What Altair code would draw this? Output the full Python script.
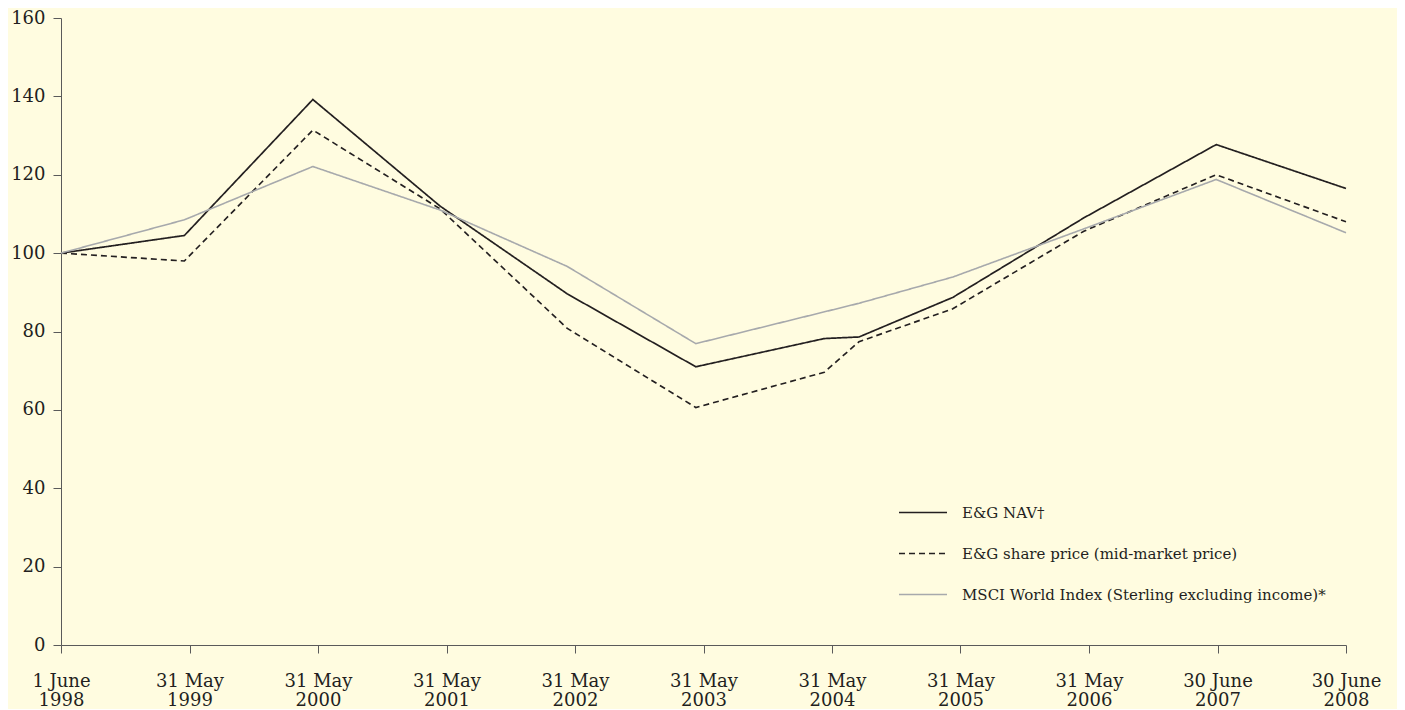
import altair as alt
import pandas as pd

# ---- data ----
SERIES = [
    "E&G NAV\u2020",
    "E&G share price (mid-market price)",
    "MSCI World Index (Sterling excluding income)*",
]
TICK_LABELS = [
    "1 June|1998", "31 May|1999", "31 May|2000", "31 May|2001", "31 May|2002",
    "31 May|2003", "31 May|2004", "31 May|2005", "31 May|2006", "30 June|2007",
    "30 June|2008",
]
NAV_X = [0, 0.96, 1.96, 2.95, 3.94, 4.94, 5.94, 6.21, 6.94, 7.96, 8.99, 10]
NAV_Y = [100, 104.5, 139.2, 112.0, 89.6, 71.0, 78.2, 78.6, 88.7, 109.0, 127.7, 116.5]
SHARE_X = [0, 0.96, 1.96, 2.95, 3.94, 4.94, 5.94, 6.21, 6.94, 7.96, 8.99, 10]
SHARE_Y = [100, 98.0, 131.4, 111.3, 80.8, 60.6, 69.6, 77.4, 85.8, 105.6, 120.0, 108.0]
MSCI_X = [0, 0.96, 1.96, 2.95, 3.94, 4.94, 6.21, 6.94, 7.96, 8.99, 10]
MSCI_Y = [100, 108.5, 122.1, 111.0, 96.6, 76.9, 87.2, 93.9, 106.2, 118.8, 105.2]

rows = []
for name, xs, ys in zip(SERIES, [NAV_X, SHARE_X, MSCI_X], [NAV_Y, SHARE_Y, MSCI_Y]):
    for i, (xv, yv) in enumerate(zip(xs, ys)):
        rows.append({"series": name, "x": xv, "y": yv, "order": i})
df = pd.DataFrame(rows)

label_array = "[" + ",".join("'" + t + "'" for t in TICK_LABELS) + "]"
label_expr = "split(" + label_array + "[datum.value], '|')"

FONT = "DejaVu Serif"
INK = "#231F20"
AXIS_COL = "#5a5a5a"

legend_cfg = dict(
    title=None,
    orient="none",
    legendX=837,
    legendY=474,
    symbolType="stroke",
    symbolSize=2304,
    symbolStrokeWidth=1.6,
    clipHeight=41,
    rowPadding=0,
    labelOffset=14,
    labelFont=FONT,
    labelFontSize=15,
    labelColor=INK,
    labelLimit=600,
)

chart = (
    alt.Chart(df)
    .mark_line(strokeJoin="miter")
    .encode(
        x=alt.X(
            "x:Q",
            scale=alt.Scale(domain=[0, 10], nice=False, zero=False),
            axis=alt.Axis(
                values=list(range(11)),
                labelExpr=label_expr,
                title=None,
                grid=False,
                tickSize=8,
                labelPadding=19,
                labelFontSize=18,
                labelLineHeight=19,
                labelFont=FONT,
                labelColor=INK,
                domainColor=AXIS_COL,
                tickColor=AXIS_COL,
                labelFlush=False,
                labelOverlap=False,
            ),
        ),
        y=alt.Y(
            "y:Q",
            scale=alt.Scale(domain=[0, 160], nice=False),
            axis=alt.Axis(
                values=list(range(0, 161, 20)),
                title=None,
                grid=False,
                tickSize=8,
                labelPadding=8,
                labelFontSize=18,
                labelFont=FONT,
                labelColor=INK,
                domainColor=AXIS_COL,
                tickColor=AXIS_COL,
            ),
        ),
        color=alt.Color(
            "series:N",
            scale=alt.Scale(domain=SERIES, range=[INK, INK, "#A7A9AC"]),
            legend=alt.Legend(**legend_cfg),
        ),
        strokeDash=alt.StrokeDash(
            "series:N",
            scale=alt.Scale(domain=SERIES, range=[[1, 0], [6, 4], [1, 0]]),
            legend=alt.Legend(**legend_cfg),
        ),
        strokeWidth=alt.StrokeWidth(
            "series:N",
            scale=alt.Scale(domain=SERIES, range=[1.7, 1.6, 2.0]),
            legend=None,
        ),
        order="order:Q",
        detail="series:N",
    )
    .properties(
        width=1285,
        height=627,
        autosize=alt.AutoSizeParams(type="none"),
        padding={"left": 53, "top": 10, "right": 51, "bottom": 64},
        background="#FFFCE0",
    )
    .configure_view(stroke=None)
)

chart.save("out.html", embed_options={"renderer": "svg", "actions": False})
